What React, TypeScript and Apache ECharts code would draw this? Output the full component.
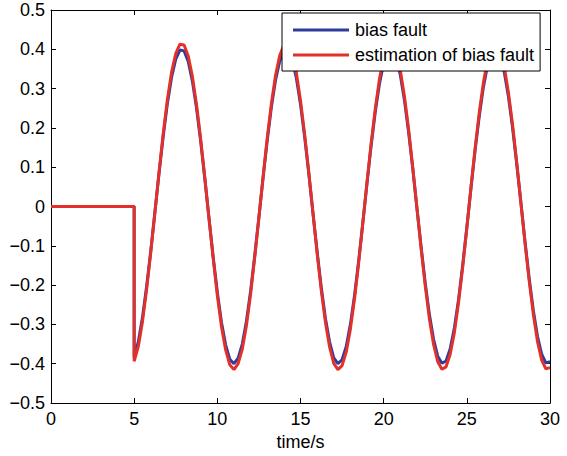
import React, { useEffect, useRef } from "react";
import * as echarts from "echarts";

const timeS = [
  0, 5, 5, 5.25, 5.5, 5.75, 6, 6.25, 6.5, 6.75, 7, 7.25, 7.5, 7.75, 8, 8.25, 8.5, 8.75, 9, 9.25, 9.5, 9.75,
  10, 10.25, 10.5, 10.75, 11, 11.25, 11.5, 11.75, 12, 12.25, 12.5, 12.75, 13, 13.25, 13.5, 13.75, 14, 14.25,
  14.5, 14.75, 15, 15.25, 15.5, 15.75, 16, 16.25, 16.5, 16.75, 17, 17.25, 17.5, 17.75, 18, 18.25, 18.5, 18.75,
  19, 19.25, 19.5, 19.75, 20, 20.25, 20.5, 20.75, 21, 21.25, 21.5, 21.75, 22, 22.25, 22.5, 22.75, 23, 23.25,
  23.5, 23.75, 24, 24.25, 24.5, 24.75, 25, 25.25, 25.5, 25.75, 26, 26.25, 26.5, 26.75, 27, 27.25, 27.5, 27.75,
  28, 28.25, 28.5, 28.75, 29, 29.25, 29.5, 29.75, 30,
];

const biasFault = [
  0, 0, -0.384, -0.344, -0.282, -0.203, -0.112, -0.013, 0.086, 0.18, 0.263, 0.329, 0.375, 0.398, 0.396, 0.369,
  0.319, 0.25, 0.165, 0.07, -0.03, -0.128, -0.218, -0.295, -0.352, -0.389, -0.4, -0.386, -0.35, -0.292, -0.215,
  -0.124, -0.027, 0.073, 0.168, 0.253, 0.322, 0.37, 0.396, 0.397, 0.374, 0.327, 0.26, 0.177, 0.083, -0.017,
  -0.115, -0.206, -0.285, -0.345, -0.385, -0.4, -0.39, -0.356, -0.3, -0.226, -0.137, -0.04, 0.06, 0.156, 0.242,
  0.313, 0.365, 0.394, 0.399, 0.378, 0.335, 0.27, 0.189, 0.096, -0.004, -0.102, -0.195, -0.275, -0.338, -0.381,
  -0.399, -0.393, -0.362, -0.309, -0.237, -0.149, -0.053, 0.047, 0.144, 0.231, 0.305, 0.36, 0.392, 0.4, 0.383,
  0.342, 0.28, 0.2, 0.108, 0.01, -0.09, -0.183, -0.265, -0.331, -0.376, -0.398, -0.395,
];

const estimation = [
  0, 0, -0.394, -0.356, -0.293, -0.211, -0.116, -0.014, 0.089, 0.187, 0.273, 0.342, 0.389, 0.413, 0.411, 0.383,
  0.331, 0.259, 0.171, 0.072, -0.031, -0.132, -0.226, -0.306, -0.365, -0.403, -0.415, -0.4, -0.363, -0.303,
  -0.223, -0.129, -0.028, 0.076, 0.174, 0.262, 0.334, 0.384, 0.411, 0.412, 0.388, 0.34, 0.27, 0.183, 0.086,
  -0.017, -0.119, -0.214, -0.295, -0.358, -0.399, -0.415, -0.405, -0.37, -0.312, -0.234, -0.142, -0.041, 0.062,
  0.162, 0.251, 0.325, 0.379, 0.409, 0.414, 0.393, 0.347, 0.28, 0.196, 0.099, -0.004, -0.106, -0.202, -0.286,
  -0.351, -0.395, -0.414, -0.408, -0.376, -0.321, -0.245, -0.155, -0.055, 0.049, 0.149, 0.24, 0.316, 0.373,
  0.406, 0.415, 0.397, 0.355, 0.29, 0.208, 0.112, 0.01, -0.093, -0.19, -0.275, -0.344, -0.391, -0.413, -0.41,
];

const seriesNames = ["bias fault", "estimation of bias fault"];
const xTicks = { min: 0, max: 30, interval: 5 };
const yTicks = { min: -0.5, max: 0.5, interval: 0.1 };

const FONT = "Liberation Sans, Arial, Helvetica, sans-serif";
const FS = 18;

export default function App() {
  const ref = useRef<HTMLDivElement>(null);
  useEffect(() => {
    if (!ref.current) return;
    const chart = echarts.init(ref.current, undefined, { renderer: "svg" });
    const axisLine = { show: true, onZero: false, lineStyle: { color: "#000", width: 1 } };
    const tick = { show: true, inside: true, length: 5, lineStyle: { color: "#000", width: 1 } };
    chart.setOption({
      animation: false,
      backgroundColor: "#fff",
      grid: { left: 51, right: 17, top: 10, bottom: 53, containLabel: false },
      legend: {
        data: [
          { name: seriesNames[0], icon: "rect" },
          { name: seriesNames[1], icon: "rect" },
        ],
        orient: "vertical",
        left: 282,
        top: 13,
        itemWidth: 56,
        itemHeight: 3,
        itemGap: 5,
        padding: [7, 6, 6, 11],
        borderColor: "#000",
        borderWidth: 1,
        borderRadius: 0,
        backgroundColor: "#fff",
        textStyle: { fontFamily: FONT, fontSize: FS, color: "#000", lineHeight: 20, padding: [0, 0, 0, 1] },
      },
      xAxis: [
        {
          type: "value",
          ...xTicks,
          position: "bottom",
          name: "time/s",
          nameLocation: "middle",
          nameGap: 29,
          nameTextStyle: { fontFamily: FONT, fontSize: FS, color: "#000" },
          axisLine,
          axisTick: tick,
          axisLabel: { fontFamily: FONT, fontSize: FS, color: "#000", margin: 7 },
          splitLine: { show: false },
        },
        {
          type: "value",
          ...xTicks,
          position: "top",
          axisLine,
          axisTick: tick,
          axisLabel: { show: false },
          splitLine: { show: false },
        },
      ],
      yAxis: [
        {
          type: "value",
          ...yTicks,
          position: "left",
          axisLine,
          axisTick: tick,
          axisLabel: {
            fontFamily: FONT,
            fontSize: FS,
            color: "#000",
            margin: 6,
            formatter: (v: number) => {
              const r = Math.round(v * 10) / 10;
              if (r === 0) return "0";
              return (r < 0 ? "\u2212" : "") + Math.abs(r).toFixed(1);
            },
          },
          splitLine: { show: false },
        },
        {
          type: "value",
          ...yTicks,
          position: "right",
          axisLine,
          axisTick: tick,
          axisLabel: { show: false },
          splitLine: { show: false },
        },
      ],
      series: [
        {
          name: seriesNames[0],
          type: "line",
          data: timeS.map((t, i) => [t, biasFault[i]]),
          showSymbol: false,
          symbol: "none",
          lineStyle: { color: "#2e3c9c", width: 3 },
          itemStyle: { color: "#2e3c9c" },
          z: 2,
        },
        {
          name: seriesNames[1],
          type: "line",
          data: timeS.map((t, i) => [t, estimation[i]]),
          showSymbol: false,
          symbol: "none",
          lineStyle: { color: "#e2302a", width: 3 },
          itemStyle: { color: "#e2302a" },
          z: 3,
        },
      ],
    });
    return () => chart.dispose();
  }, []);
  return <div ref={ref} style={{ width: 567, height: 456, position: "fixed", left: 0, top: 0 }} />;
}
